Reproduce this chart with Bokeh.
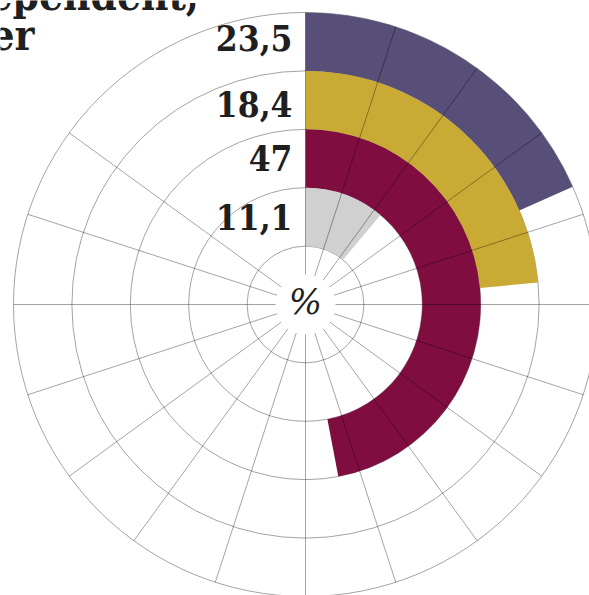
import numpy as np
from bokeh.plotting import figure
from bokeh.models import Range1d, ColumnDataSource
from bokeh.core.properties import value
from bokeh.embed import file_html
from bokeh.resources import INLINE

# ---- data ----
ring_labels = ["23,5", "18,4", "47", "11,1"]      # printed values, outer -> inner
arc_values = [18.4, 23.5, 47.0, 11.1]            # angular extent of each ring's bar as drawn (%)
ring_colors = ["#574f77", "#c9aa34", "#800d40", "#cfd0cf"]
ring_inner = [4, 3, 2, 1]                         # ring position (inner edge, in ring units)
title_lines = ["ependent,", "er"]
center_label = "%"

# ---- layout ----
W, H = 589, 595
CX, CY = 305, 304          # centre in pixels from top-left
R = 58.4                   # ring width in px
N_RINGS = 5
SPOKE_STEP = 18
SPOKES_SKIPPED = [108, 126]
LABEL_NUDGE = [4, -4, 1, 0]  # px, vertical fine-tuning of each ring label

p = figure(width=W, height=H, output_backend="svg", toolbar_location=None,
           x_range=Range1d(-CX, W - CX), y_range=Range1d(-(H - CY), CY),
           min_border=0, outline_line_color=None, background_fill_color="white")
p.axis.visible = False
p.grid.visible = False

# grid circles
radii = [R * k for k in range(1, N_RINGS + 1)]
p.circle(x=[0] * len(radii), y=[0] * len(radii), radius=radii,
         fill_color=None, line_color="#a3a3a3", line_width=1)

# bars
deg = np.pi / 180
src = ColumnDataSource(dict(
    inner=[R * k for k in ring_inner],
    outer=[R * (k + 1) for k in ring_inner],
    start=[np.pi / 2] * len(arc_values),
    end=[np.pi / 2 - v * 3.6 * deg for v in arc_values],
    color=ring_colors,
))
p.annular_wedge(x=0, y=0, inner_radius="inner", outer_radius="outer",
                start_angle="start", end_angle="end", direction="clock",
                fill_color="color", line_color=None, source=src)

# spokes (drawn over the bars)
angles = [a for a in range(0, 360, SPOKE_STEP) if a not in SPOKES_SKIPPED]
r0, r1 = 30, R * N_RINGS
p.segment(x0=[r0 * np.cos(a * deg) for a in angles], y0=[r0 * np.sin(a * deg) for a in angles],
          x1=[r1 * np.cos(a * deg) for a in angles], y1=[r1 * np.sin(a * deg) for a in angles],
          line_color="#000000", line_alpha=0.36, line_width=1)

# ring value labels
p.text(x=[-13] * len(ring_labels),
       y=[R * (k + 0.5) + n for k, n in zip(ring_inner, LABEL_NUDGE)], text=ring_labels,
       text_font=value("DejaVu Serif Condensed"), text_font_style="bold",
       text_font_size="35px", text_align="right", text_baseline="middle",
       text_color="#1f1f1f")

# centre label
p.text(x=[0], y=[3], text=[center_label], text_font=value("DejaVu Serif"),
       text_font_style="italic", text_font_size="35px", text_align="center",
       text_baseline="middle", text_color="#1f1f1f")

# title fragment top-left (cut by the page edge, as in the original)
p.text(x=[-CX - 12, -CX - 10], y=[CY + 5, CY - 35], text=title_lines,
       text_font=value("DejaVu Serif Condensed"), text_font_style="bold",
       text_font_size="42px", text_align="left", text_baseline="alphabetic",
       text_color="#1f1f1f")

open("out.html", "w").write(file_html(p, INLINE))
